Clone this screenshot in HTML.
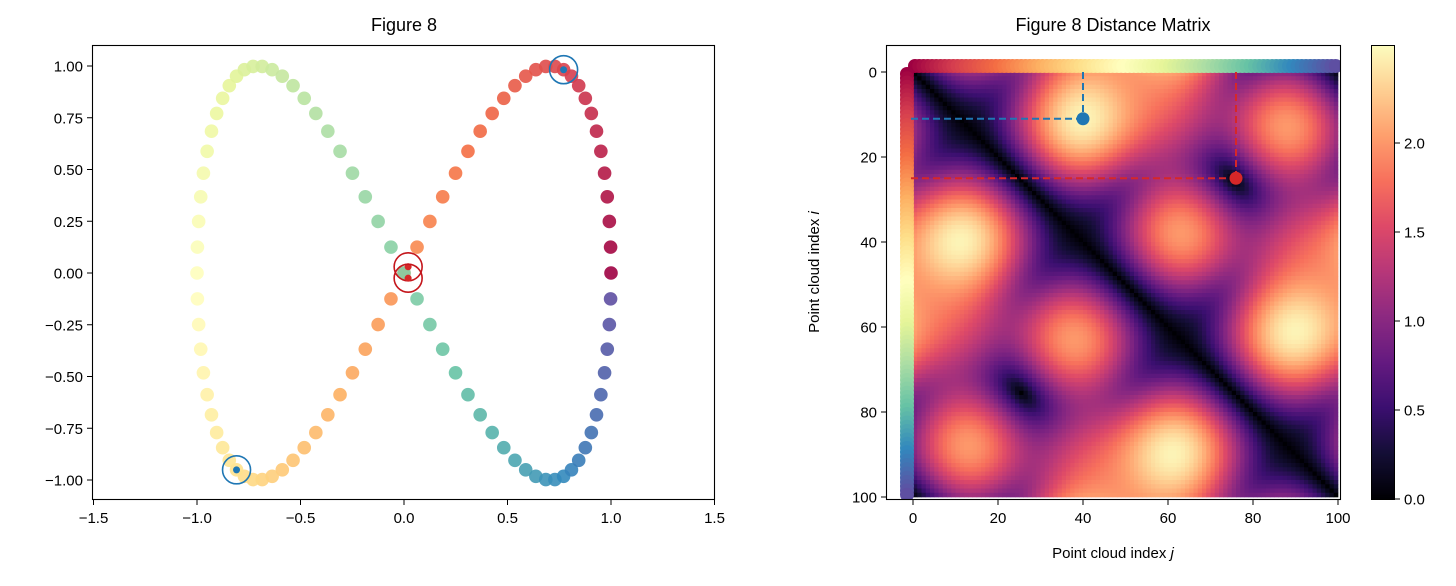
<!DOCTYPE html>
<html><head><meta charset="utf-8"><style>
body{margin:0;background:#fff;}
svg text{font-family:"Liberation Sans","DejaVu Sans",sans-serif;fill:#000;}
</style></head><body>
<svg id="root" width="1456" height="581" xmlns="http://www.w3.org/2000/svg">
<defs><clipPath id="rclip"><rect x="887" y="46" width="453" height="453"/></clipPath></defs>
<g id="left"></g>
<g id="right"></g>
</svg>
<script>
// figure-8 point cloud (x, y), index-ordered
const xs=[1,.998,.992,.982,.969,.951,.930,.905,.876,.844,.809,.771,.729,.685,.637,.588,.536,.482,.426,.368,.309,.249,.187,.125,.063,0,
-.063,-.125,-.187,-.249,-.309,-.368,-.426,-.482,-.536,-.588,-.637,-.685,-.729,-.771,-.809,-.844,-.876,-.905,-.930,-.951,-.969,-.982,-.992,-.998,-1,
-.998,-.992,-.982,-.969,-.951,-.930,-.905,-.876,-.844,-.809,-.771,-.729,-.685,-.637,-.588,-.536,-.482,-.426,-.368,-.309,-.249,-.187,-.125,-.063,0,
.063,.125,.187,.249,.309,.368,.426,.482,.536,.588,.637,.685,.729,.771,.809,.844,.876,.905,.930,.951,.969,.982,.992,.998];
const ys=[0,.125,.249,.368,.482,.588,.685,.771,.844,.905,.951,.982,.998,.998,.982,.951,.905,.844,.771,.685,.588,.482,.368,.249,.125,0,
-.125,-.249,-.368,-.482,-.588,-.685,-.771,-.844,-.905,-.951,-.982,-.998,-.998,-.982,-.951,-.905,-.844,-.771,-.685,-.588,-.482,-.368,-.249,-.125,0,
.125,.249,.368,.482,.588,.685,.771,.844,.905,.951,.982,.998,.998,.982,.951,.905,.844,.771,.685,.588,.482,.368,.249,.125,0,
-.125,-.249,-.368,-.482,-.588,-.685,-.771,-.844,-.905,-.951,-.982,-.998,-.998,-.982,-.951,-.905,-.844,-.771,-.685,-.588,-.482,-.368,-.249,-.125];
const bluePair=[11,40];
const redPair=[25,76];
const redMarks=[[0.02,0.03],[0.02,-0.025]];
const xTicks=[-1.5,-1.0,-0.5,0.0,0.5,1.0,1.5];
const yTicks=[1.00,0.75,0.50,0.25,0.00,-0.25,-0.50,-0.75,-1.00];
const mTicks=[0,20,40,60,80,100];
const cbTicks=[0.0,0.5,1.0,1.5,2.0];
const cbMax=2.55;

const NS="http://www.w3.org/2000/svg";
function mk(p,tag,at,txt){const e=document.createElementNS(NS,tag);for(const k in at)e.setAttribute(k,at[k]);if(txt!==undefined)e.textContent=txt;p.appendChild(e);return e;}
function interp(stops,t){t=Math.max(0,Math.min(1,t));const n=stops.length-1;const f=t*n;const i=Math.min(n-1,Math.floor(f));const u=f-i;
 const a=stops[i],b=stops[i+1];const h=s=>[parseInt(s.substr(1,2),16),parseInt(s.substr(3,2),16),parseInt(s.substr(5,2),16)];
 const A=h(a),B=h(b);return `rgb(${A.map((v,k)=>Math.round(v+(B[k]-v)*u)).join(',')})`;}
const spectral=["#9e0142","#d53e4f","#f46d43","#fdae61","#fee08b","#ffffbf","#e6f598","#abdda4","#66c2a5","#3288bd","#5e4fa2"];
const magma=["#000004","#140e36","#3b0f70","#641a80","#8c2981","#b73779","#de4968","#f7705c","#fe9f6d","#fecf92","#fcfdbf"];
const N=xs.length;

// ---- left panel
const L=document.getElementById('left');
const sx=v=>404+v*207, sy=v=>273-v*207;
mk(L,'text',{x:404,y:31,'text-anchor':'middle','font-size':18,},'Figure 8');
for(let i=0;i<N;i++){
 const c=mk(L,'circle',{cx:sx(xs[i]),cy:sy(ys[i]),r:6.8,fill:interp(spectral,i/(N-1)),'fill-opacity':0.9});
 
 
}
bluePair.forEach(i=>{
 const d=mk(L,'circle',{cx:sx(xs[i]),cy:sy(ys[i]),r:3.5,fill:'#1f77b4'});
 
 
 const c=mk(L,'circle',{cx:sx(xs[i]),cy:sy(ys[i]),r:14,fill:'none',stroke:'#1f77b4','stroke-width':1.6});
 
 
});
redMarks.forEach(p=>{
 const d=mk(L,'circle',{cx:sx(p[0]),cy:sy(p[1]),r:3.5,fill:'#d62728'});
 
 
 const c=mk(L,'circle',{cx:sx(p[0]),cy:sy(p[1]),r:14,fill:'none',stroke:'#c4161c','stroke-width':1.6});
 
 
});
mk(L,'rect',{x:92.5,y:45.5,width:622,height:454,fill:'none',stroke:'#000','stroke-width':1.1,});
xTicks.forEach(v=>{const x=sx(v);mk(L,'line',{x1:x,x2:x,y1:500,y2:505,stroke:'#000'});
 const t=mk(L,'text',{x:x,y:523,'text-anchor':'middle','font-size':15},(v<0?'−':'')+Math.abs(v).toFixed(1));
 });
yTicks.forEach(v=>{const y=sy(v);mk(L,'line',{x1:87,x2:92,y1:y,y2:y,stroke:'#000'});
 const t=mk(L,'text',{x:83,y:y+5.5,'text-anchor':'end','font-size':15},(v<0?'−':'')+Math.abs(v).toFixed(2));
 });

// ---- right panel
const R=document.getElementById('right');
const mx=v=>913+v*4.25, my=v=>72+v*4.25;
mk(R,'text',{x:1113,y:31,'text-anchor':'middle','font-size':18,},'Figure 8 Distance Matrix');
const inner=mk(R,'g',{'clip-path':'url(#rclip)',});
const hm=mk(inner,'g',{});
for(let i=0;i<N;i++)for(let j=0;j<N;j++){
 const d=Math.hypot(xs[i]-xs[j],ys[i]-ys[j]);
 const r=mk(hm,'rect',{x:mx(j),y:my(i),width:4.6,height:4.6,fill:interp(magma,d/cbMax)});
 
 
}
for(let i=0;i<N;i++){
 const c1=mk(inner,'circle',{cx:mx(i)+2,cy:66,r:7,fill:interp(spectral,i/(N-1))});
 
 
 const c2=mk(inner,'circle',{cx:907,cy:my(i)+2,r:7,fill:interp(spectral,i/(N-1))});
 
 
}
[[bluePair,'#1f77b4','blue'],[redPair,'#d62728','red']].forEach(([p,col,nm])=>{
 const i=p[0],j=p[1];
 mk(R,'line',{x1:mx(0)-2,x2:mx(j),y1:my(i),y2:my(i),stroke:col,'stroke-width':2,'stroke-dasharray':'7,4',});
 mk(R,'line',{x1:mx(j),x2:mx(j),y1:my(0),y2:my(i),stroke:col,'stroke-width':2,'stroke-dasharray':'7,4',});
 mk(R,'circle',{cx:mx(j),cy:my(i),r:6.5,fill:col,});
});
mk(R,'rect',{x:886.5,y:45.5,width:454,height:454,fill:'none',stroke:'#000','stroke-width':1.1,});
mTicks.forEach(v=>{const x=mx(v);mk(R,'line',{x1:x,x2:x,y1:500,y2:505,stroke:'#000'});
 const t=mk(R,'text',{x:x,y:523,'text-anchor':'middle','font-size':15},String(v));
 
 const y=my(v);mk(R,'line',{x1:881,x2:886,y1:y,y2:y,stroke:'#000'});
 const t2=mk(R,'text',{x:877,y:y+5.5,'text-anchor':'end','font-size':15},String(v));
 });
const xt=mk(R,'text',{x:1113,y:558,'text-anchor':'middle','font-size':15,},'Point cloud index ');
const tj=document.createElementNS(NS,'tspan');tj.textContent='j';tj.setAttribute('font-style','italic');xt.appendChild(tj);
const yt=mk(R,'text',{x:0,y:0,'text-anchor':'middle','font-size':15,transform:'translate(819,272) rotate(-90)',},'Point cloud index ');
const ti=document.createElementNS(NS,'tspan');ti.textContent='i';ti.setAttribute('font-style','italic');yt.appendChild(ti);
// colorbar
const cb=mk(R,'g',{});
const cy=v=>499-v*178;
for(let k=0;k<227;k++){const v0=k*cbMax/227;mk(cb,'rect',{x:1371,y:cy(v0+cbMax/227),width:24,height:2.6,fill:interp(magma,v0/cbMax)});}
mk(cb,'rect',{x:1371.5,y:45.5,width:23,height:454,fill:'none',stroke:'#000','stroke-width':1});
cbTicks.forEach(v=>{const y=cy(v);mk(cb,'line',{x1:1395,x2:1400,y1:y,y2:y,stroke:'#000'});
 const t=mk(cb,'text',{x:1404,y:y+5.5,'font-size':15},v.toFixed(1));
 });
</script>
</body></html>
